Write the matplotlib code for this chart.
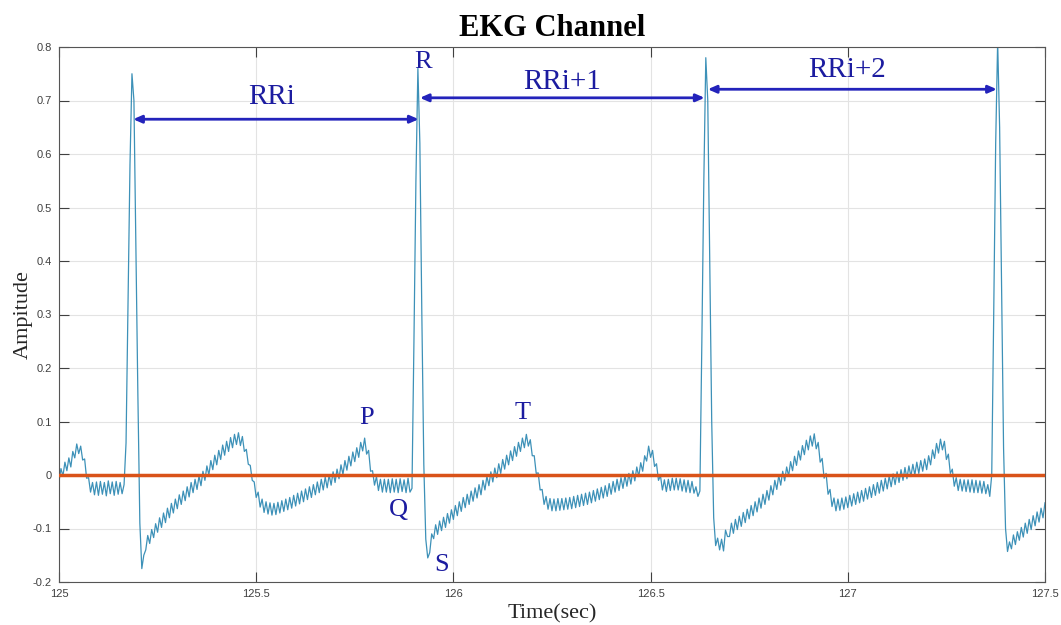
import numpy as np
import matplotlib
matplotlib.use("Agg")
import matplotlib.pyplot as plt

# sampled EKG trace, 200 Hz starting at t0
t0 = 125.0
fs = 200.0
amp = [
    -0.012, 0.012, -0.002, 0.024, 0.008, 0.032, 0.015, 0.044, 0.032, 0.058,
    0.040, 0.054, 0.028, 0.030, -0.006, -0.005, -0.032, -0.014, -0.037, -0.013,
    -0.038, -0.012, -0.036, -0.014, -0.039, -0.011, -0.035, -0.013, -0.038, -0.012,
    -0.036, -0.014, -0.035, -0.018, 0.06, 0.32, 0.58, 0.75, 0.70, 0.42,
    0.15, -0.09, -0.175, -0.15, -0.14, -0.113, -0.128, -0.102, -0.117, -0.091,
    -0.107, -0.080, -0.098, -0.071, -0.089, -0.062, -0.080, -0.053, -0.071, -0.045,
    -0.063, -0.037, -0.055, -0.030, -0.048, -0.022, -0.041, -0.014, -0.033, -0.008,
    -0.027, -0.002, -0.020, 0.007, -0.010, 0.017, 0.000, 0.027, 0.010, 0.037,
    0.019, 0.046, 0.029, 0.056, 0.037, 0.063, 0.044, 0.070, 0.051, 0.076,
    0.057, 0.079, 0.055, 0.072, 0.044, 0.048, 0.020, 0.018, -0.010, -0.013,
    -0.042, -0.032, -0.060, -0.045, -0.070, -0.050, -0.073, -0.052, -0.075, -0.053,
    -0.074, -0.051, -0.071, -0.048, -0.068, -0.045, -0.065, -0.042, -0.062, -0.038,
    -0.058, -0.034, -0.054, -0.030, -0.050, -0.026, -0.046, -0.022, -0.042, -0.018,
    -0.037, -0.013, -0.033, -0.008, -0.028, -0.004, -0.024, 0.000, -0.019, 0.006,
    -0.014, 0.011, -0.007, 0.019, 0.001, 0.027, 0.009, 0.035, 0.017, 0.043,
    0.025, 0.051, 0.033, 0.061, 0.045, 0.069, 0.039, 0.046, 0.007, 0.008,
    -0.019, -0.003, -0.029, -0.008, -0.032, -0.008, -0.032, -0.008, -0.033, -0.007,
    -0.032, -0.008, -0.033, -0.007, -0.031, -0.009, -0.033, -0.006, -0.032, -0.025,
    0.25, 0.55, 0.76, 0.62, 0.30, 0.02, -0.12, -0.155, -0.145, -0.11,
    -0.119, -0.093, -0.111, -0.086, -0.104, -0.079, -0.098, -0.072, -0.090, -0.065,
    -0.083, -0.057, -0.076, -0.050, -0.068, -0.042, -0.061, -0.036, -0.055, -0.030,
    -0.049, -0.024, -0.043, -0.018, -0.037, -0.010, -0.028, -0.002, -0.020, 0.006,
    -0.013, 0.013, -0.005, 0.021, 0.003, 0.029, 0.011, 0.037, 0.019, 0.045,
    0.027, 0.053, 0.035, 0.061, 0.044, 0.069, 0.051, 0.076, 0.054, 0.066,
    0.036, 0.036, 0.003, 0.004, -0.028, -0.027, -0.055, -0.040, -0.064, -0.044,
    -0.067, -0.045, -0.067, -0.044, -0.066, -0.044, -0.065, -0.043, -0.064, -0.042,
    -0.063, -0.040, -0.061, -0.038, -0.059, -0.036, -0.057, -0.034, -0.055, -0.032,
    -0.052, -0.029, -0.049, -0.026, -0.046, -0.023, -0.043, -0.020, -0.040, -0.016,
    -0.036, -0.012, -0.032, -0.008, -0.029, -0.005, -0.025, -0.001, -0.021, 0.003,
    -0.017, 0.008, -0.011, 0.015, -0.003, 0.023, 0.007, 0.036, 0.026, 0.054,
    0.033, 0.046, 0.016, 0.021, -0.010, -0.001, -0.028, -0.009, -0.031, -0.008,
    -0.029, -0.006, -0.028, -0.006, -0.028, -0.007, -0.030, -0.009, -0.032, -0.010,
    -0.033, -0.012, -0.034, -0.022, -0.040, -0.030, 0.25, 0.55, 0.78, 0.70,
    0.40, 0.10, -0.08, -0.132, -0.118, -0.14, -0.12, -0.142, -0.103, -0.115,
    -0.115, -0.090, -0.109, -0.083, -0.102, -0.077, -0.096, -0.070, -0.089, -0.064,
    -0.082, -0.057, -0.076, -0.050, -0.069, -0.043, -0.062, -0.036, -0.055, -0.029,
    -0.047, -0.020, -0.037, -0.010, -0.027, -0.001, -0.019, 0.007, -0.011, 0.015,
    -0.002, 0.025, 0.008, 0.035, 0.018, 0.045, 0.028, 0.055, 0.038, 0.065,
    0.047, 0.073, 0.054, 0.077, 0.049, 0.061, 0.024, 0.031, -0.006, 0.003,
    -0.036, -0.027, -0.059, -0.043, -0.067, -0.045, -0.066, -0.043, -0.064, -0.041,
    -0.061, -0.038, -0.058, -0.035, -0.055, -0.032, -0.052, -0.029, -0.049, -0.025,
    -0.045, -0.022, -0.042, -0.018, -0.038, -0.014, -0.034, -0.010, -0.030, -0.006,
    -0.026, -0.002, -0.022, 0.002, -0.018, 0.006, -0.014, 0.010, -0.010, 0.014,
    -0.007, 0.017, -0.003, 0.020, 0.000, 0.024, 0.003, 0.027, 0.007, 0.030,
    0.010, 0.036, 0.019, 0.047, 0.031, 0.059, 0.041, 0.067, 0.047, 0.063,
    0.029, 0.039, 0.003, 0.011, -0.021, -0.005, -0.029, -0.008, -0.030, -0.009,
    -0.031, -0.009, -0.032, -0.009, -0.033, -0.010, -0.033, -0.011, -0.034, -0.012,
    -0.035, -0.018, -0.040, 0.0, 0.30, 0.62, 0.81, 0.65, 0.35, 0.05,
    -0.10, -0.143, -0.125, -0.138, -0.112, -0.130, -0.106, -0.122, -0.098, -0.116,
    -0.090, -0.109, -0.083, -0.102, -0.076, -0.095, -0.069, -0.088, -0.062, -0.080,
    -0.052,
]
assert len(amp) == 501
time = t0 + np.arange(len(amp)) / fs

baseline = 0.0

# RR intervals: (start, end, height) and labels
rr_start = [125.188, 125.915, 126.645]
rr_end = [125.912, 126.637, 127.378]
rr_y = [0.665, 0.705, 0.721]
rr_labels = ['RRi', 'RRi+1', 'RRi+2']
rr_label_x = [125.54, 126.275, 126.998]
rr_label_y = [0.707, 0.735, 0.757]

# wave labels
wave_names = ['R', 'P', 'Q', 'S', 'T']
wave_x = [125.922, 125.78, 125.86, 125.97, 126.176]
wave_y = [0.772, 0.107, -0.065, -0.168, 0.115]

xticks = [125, 125.5, 126, 126.5, 127, 127.5]
xtick_labels = ['125', '125.5', '126', '126.5', '127', '127.5']
yticks = [-0.2, -0.1, 0, 0.1, 0.2, 0.3, 0.4, 0.5, 0.6, 0.7, 0.8]
ytick_labels = ['-0.2', '-0.1', '0', '0.1', '0.2', '0.3', '0.4', '0.5', '0.6', '0.7', '0.8']

serif = ['Liberation Serif', 'DejaVu Serif']
blue_txt = '#1c1ca0'

fig = plt.figure(figsize=(10.61, 6.25), dpi=100)
ax = fig.add_axes([0.0556, 0.0688, 0.9293, 0.856])

ax.plot(time, amp, color='#3d91b8', lw=0.9, zorder=2)
ax.axhline(baseline, color='#D95319', lw=2.5, zorder=3)

ax.set_xlim(125, 127.5)
ax.set_ylim(-0.2, 0.8)
ax.set_xticks(xticks)
ax.set_xticklabels(xtick_labels)
ax.set_yticks(yticks)
ax.set_yticklabels(ytick_labels)
ax.grid(True, color='#e3e3e3', lw=0.8)
ax.set_axisbelow(True)
ax.tick_params(direction='in', length=7, width=0.8, top=True, right=True,
               labelsize=8, labelcolor='#404040', color='#404040', pad=5)
for lab in ax.get_xticklabels() + ax.get_yticklabels():
    lab.set_family(['Liberation Sans', 'DejaVu Sans'])
for sp in ax.spines.values():
    sp.set_color('#555555')
    sp.set_linewidth(0.8)

ax.set_title('EKG Channel', family=serif, fontsize=22, fontweight='bold', pad=8)
ax.set_xlabel('Time(sec)', family=serif, fontsize=16, labelpad=4, color='#262626')
ax.set_ylabel('Ampitude', family=serif, fontsize=16, labelpad=0, color='#262626')

for x0, x1, y in zip(rr_start, rr_end, rr_y):
    ax.annotate('', xy=(x1, y), xytext=(x0, y),
                arrowprops=dict(arrowstyle='<|-|>,head_length=0.5,head_width=0.22',
                                color='#2323bb', lw=2, shrinkA=0, shrinkB=0),
                zorder=4)
for lbl, x, y in zip(rr_labels, rr_label_x, rr_label_y):
    ax.text(x, y, lbl, family=serif, fontsize=21, color=blue_txt,
            ha='center', va='center', zorder=5)
for lbl, x, y in zip(wave_names, wave_x, wave_y):
    ax.text(x, y, lbl, family=serif, fontsize=19, color=blue_txt,
            ha='center', va='center', zorder=5)

fig.savefig('out.png', dpi=100)
